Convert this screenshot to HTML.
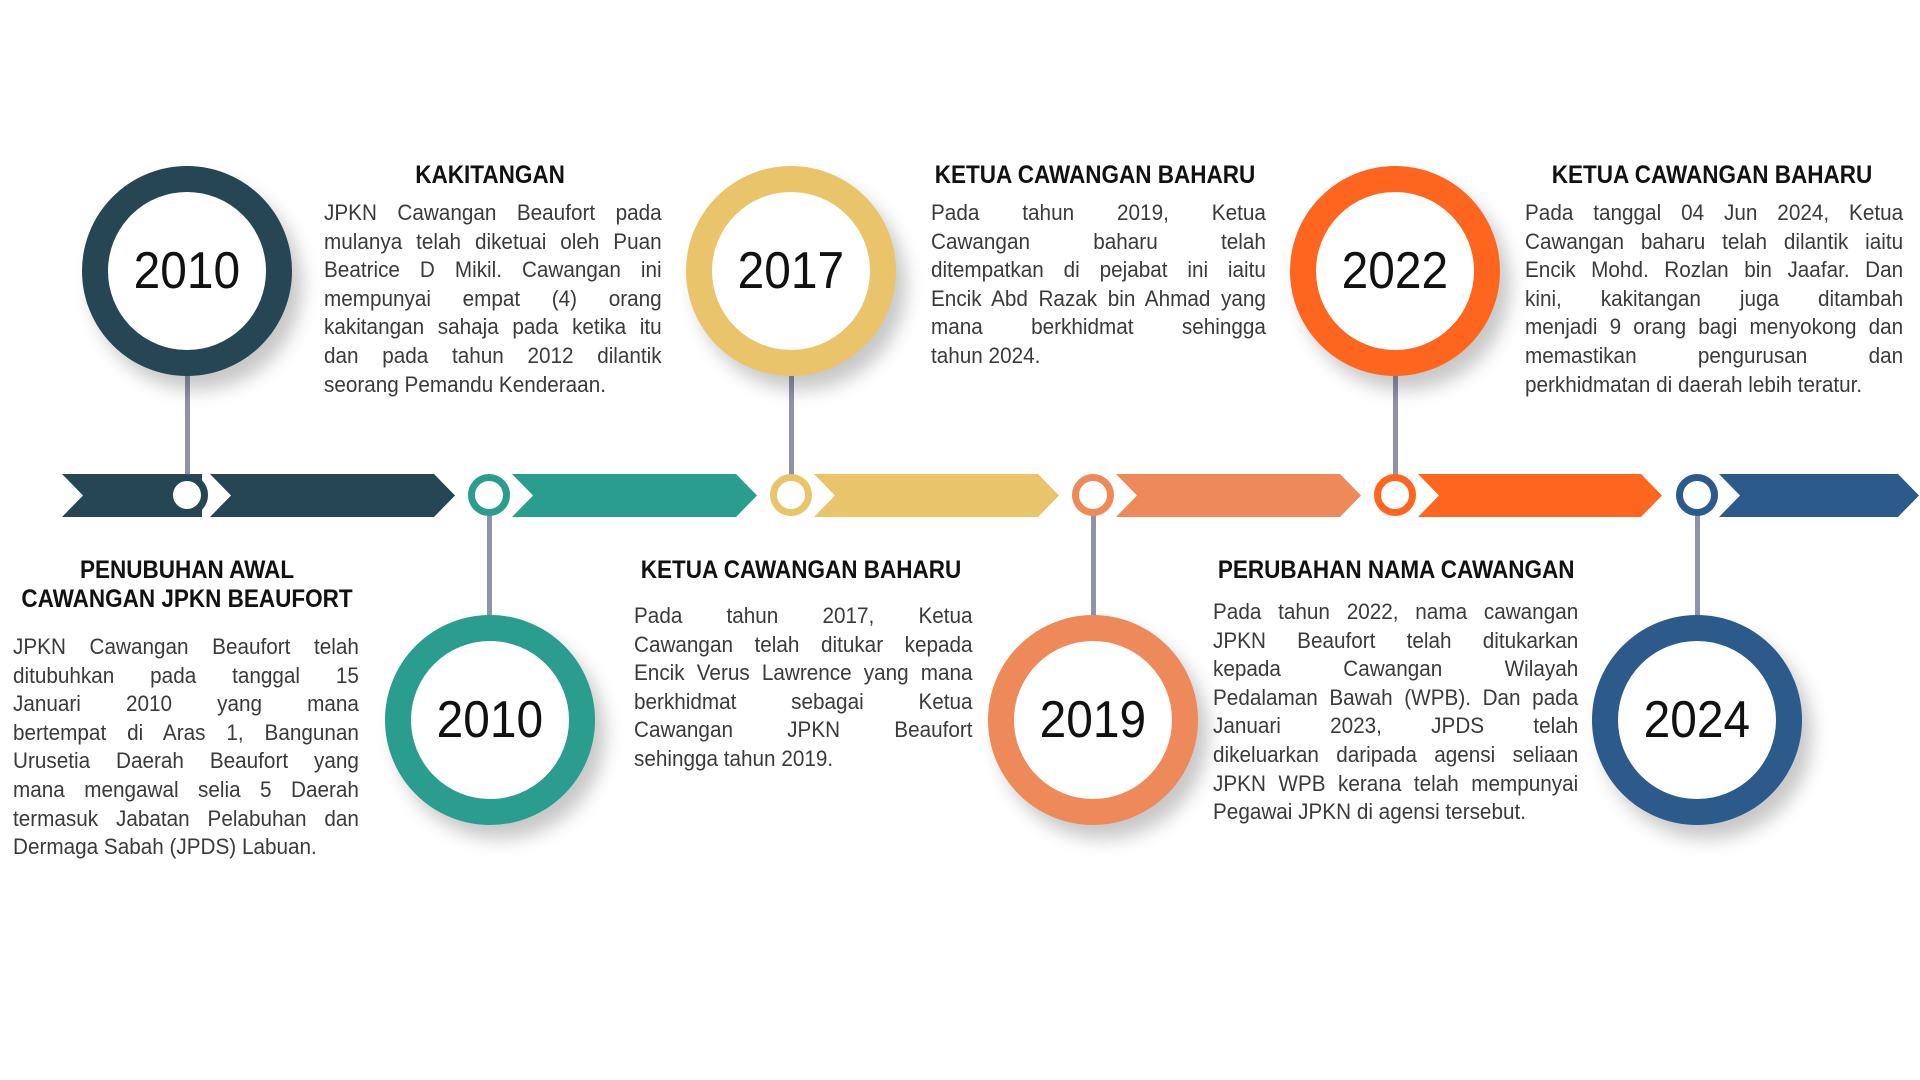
<!DOCTYPE html>
<html><head><meta charset="utf-8"><style>
body{margin:0;width:1920px;height:1080px;background:#fff;position:relative;overflow:hidden;font-family:"Liberation Sans",sans-serif}
.seg{position:absolute;top:474px;height:43px}
.dot{position:absolute;box-sizing:border-box;width:42px;height:42px;border-radius:50%;border:7px solid;background:#fff;top:474px}
.stem{position:absolute;width:5px;background:#8e93aa}
.big{position:absolute;box-sizing:border-box;width:210px;height:210px;border-radius:50%;border:26px solid;background:#fff;box-shadow:10px 14px 18px rgba(0,0,0,.22);display:flex;align-items:center;justify-content:center;font-size:52px;color:#111}
.big span{display:inline-block;transform:scaleX(.92)}
.h{position:absolute;font-weight:bold;font-size:25px;color:#111;text-align:center;white-space:nowrap}
.h span{display:inline-block;transform:scaleX(.9)}
.t{position:absolute;color:#3a3a3a;font-size:22.5px;line-height:28.6px;transform-origin:0 0;transform:scaleX(.92)}
.t div{text-align:justify;text-align-last:justify;white-space:nowrap}
.t div.l{text-align-last:left}
</style></head><body>
<div class="seg" style="left:62px;width:140px;background:#264653;clip-path:polygon(0 0,100% 0,100% 100%,0 100%,21px 50%)"></div>
<div class="seg" style="left:210px;width:245px;background:#264653;clip-path:polygon(0 0,calc(100% - 21px) 0,100% 50%,calc(100% - 21px) 100%,0 100%,21px 50%)"></div>
<div class="seg" style="left:512px;width:245px;background:#2a9d8f;clip-path:polygon(0 0,calc(100% - 21px) 0,100% 50%,calc(100% - 21px) 100%,0 100%,21px 50%)"></div>
<div class="seg" style="left:814px;width:245px;background:#e9c46a;clip-path:polygon(0 0,calc(100% - 21px) 0,100% 50%,calc(100% - 21px) 100%,0 100%,21px 50%)"></div>
<div class="seg" style="left:1116px;width:245px;background:#ee8959;clip-path:polygon(0 0,calc(100% - 21px) 0,100% 50%,calc(100% - 21px) 100%,0 100%,21px 50%)"></div>
<div class="seg" style="left:1418px;width:244px;background:#fe6620;clip-path:polygon(0 0,calc(100% - 21px) 0,100% 50%,calc(100% - 21px) 100%,0 100%,21px 50%)"></div>
<div class="seg" style="left:1719px;width:200px;background:#2b5a8b;clip-path:polygon(0 0,calc(100% - 21px) 0,100% 50%,calc(100% - 21px) 100%,0 100%,21px 50%)"></div>
<div class="stem" style="left:185px;top:370px;height:110px"></div>
<div class="stem" style="left:487px;top:510px;height:110px"></div>
<div class="stem" style="left:789px;top:370px;height:110px"></div>
<div class="stem" style="left:1091px;top:510px;height:110px"></div>
<div class="stem" style="left:1393px;top:370px;height:110px"></div>
<div class="stem" style="left:1695px;top:510px;height:110px"></div>
<div class="dot" style="left:166px;border-color:#264653"></div>
<div class="dot" style="left:468px;border-color:#2a9d8f"></div>
<div class="dot" style="left:770px;border-color:#e9c46a"></div>
<div class="dot" style="left:1072px;border-color:#ee8959"></div>
<div class="dot" style="left:1374px;border-color:#fe6620"></div>
<div class="dot" style="left:1676px;border-color:#2b5a8b"></div>
<div class="big" style="left:82px;top:166px;border-color:#264653"><span>2010</span></div>
<div class="big" style="left:686px;top:166px;border-color:#e9c46a"><span>2017</span></div>
<div class="big" style="left:1290px;top:166px;border-color:#fe6620"><span>2022</span></div>
<div class="big" style="left:385px;top:615px;border-color:#2a9d8f"><span>2010</span></div>
<div class="big" style="left:988px;top:615px;border-color:#ee8959"><span>2019</span></div>
<div class="big" style="left:1592px;top:615px;border-color:#2b5a8b"><span>2024</span></div>
<div class="h" style="left:290px;width:400px;top:161px"><span>KAKITANGAN</span></div>
<div class="t" style="left:324px;top:199px;width:367px">
<div>JPKN Cawangan Beaufort pada</div><div>mulanya telah diketuai oleh Puan</div><div>Beatrice D Mikil. Cawangan ini</div><div>mempunyai empat (4) orang</div><div>kakitangan sahaja pada ketika itu</div><div>dan pada tahun 2012 dilantik</div><div class="l">seorang Pemandu Kenderaan.</div></div>
<div class="h" style="left:895px;width:400px;top:161px"><span>KETUA CAWANGAN BAHARU</span></div>
<div class="t" style="left:931px;top:199px;width:364px">
<div>Pada tahun 2019, Ketua</div><div>Cawangan baharu telah</div><div>ditempatkan di pejabat ini iaitu</div><div>Encik Abd Razak bin Ahmad yang</div><div>mana berkhidmat sehingga</div><div class="l">tahun 2024.</div></div>
<div class="h" style="left:1512px;width:400px;top:161px"><span>KETUA CAWANGAN BAHARU</span></div>
<div class="t" style="left:1525px;top:199px;width:411px">
<div>Pada tanggal 04 Jun 2024, Ketua</div><div>Cawangan baharu telah dilantik iaitu</div><div>Encik Mohd. Rozlan bin Jaafar. Dan</div><div>kini, kakitangan juga ditambah</div><div>menjadi 9 orang bagi menyokong dan</div><div>memastikan pengurusan dan</div><div class="l">perkhidmatan di daerah lebih teratur.</div></div>
<div class="h" style="left:-13px;width:400px;top:556px;line-height:29px"><span>PENUBUHAN AWAL<br>CAWANGAN JPKN BEAUFORT</span></div>
<div class="t" style="left:13px;top:633px;width:376px">
<div>JPKN Cawangan Beaufort telah</div><div>ditubuhkan pada tanggal 15</div><div>Januari 2010 yang mana</div><div>bertempat di Aras 1, Bangunan</div><div>Urusetia Daerah Beaufort yang</div><div>mana mengawal selia 5 Daerah</div><div>termasuk Jabatan Pelabuhan dan</div><div class="l">Dermaga Sabah (JPDS) Labuan.</div></div>
<div class="h" style="left:601px;width:400px;top:556px"><span>KETUA CAWANGAN BAHARU</span></div>
<div class="t" style="left:634px;top:602px;width:368px">
<div>Pada tahun 2017, Ketua</div><div>Cawangan telah ditukar kepada</div><div>Encik Verus Lawrence yang mana</div><div>berkhidmat sebagai Ketua</div><div>Cawangan JPKN Beaufort</div><div class="l">sehingga tahun 2019.</div></div>
<div class="h" style="left:1196px;width:400px;top:556px"><span>PERUBAHAN NAMA CAWANGAN</span></div>
<div class="t" style="left:1213px;top:598px;width:397px">
<div>Pada tahun 2022, nama cawangan</div><div>JPKN Beaufort telah ditukarkan</div><div>kepada Cawangan Wilayah</div><div>Pedalaman Bawah (WPB). Dan pada</div><div>Januari 2023, JPDS telah</div><div>dikeluarkan daripada agensi seliaan</div><div>JPKN WPB kerana telah mempunyai</div><div class="l">Pegawai JPKN di agensi tersebut.</div></div>
</body></html>
